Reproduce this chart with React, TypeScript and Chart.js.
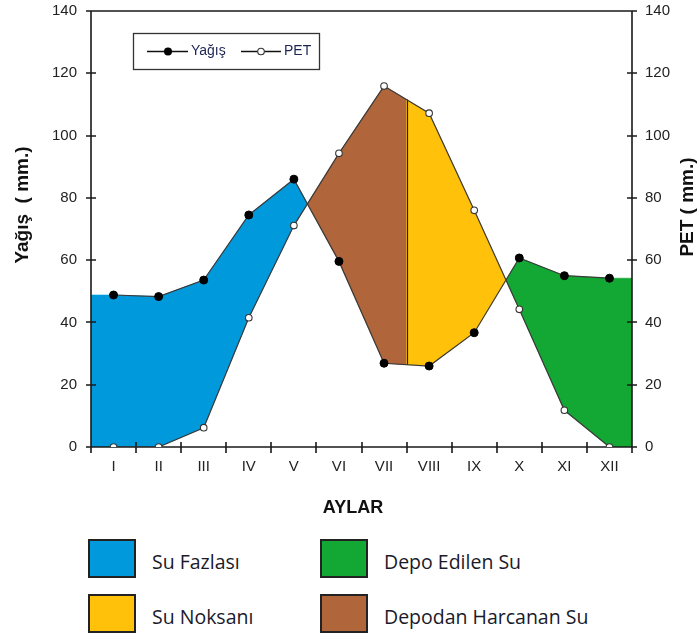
import React, { useEffect, useRef } from "react";
import { Chart, registerables } from "chart.js";

Chart.register(...registerables);

const months = ["I", "II", "III", "IV", "V", "VI", "VII", "VIII", "IX", "X", "XI", "XII"];
const yagis = [48.8, 48.3, 53.6, 74.5, 86, 59.6, 26.9, 26, 36.7, 60.7, 55, 54.2];
const pet = [0, 0, 6.2, 41.5, 71.1, 94.3, 115.9, 107.2, 76, 44.2, 11.8, 0];
const yTicks = [0, 20, 40, 60, 80, 100, 120, 140];
const seasonSplit = 6.5; // between VII and VIII
const legendItems = [
  { label: "Su Fazlası", color: "#0099DC" },
  { label: "Depo Edilen Su", color: "#12A833" },
  { label: "Su Noksanı", color: "#FFC10A" },
  { label: "Depodan Harcanan Su", color: "#B0663A" },
];

const COL = {
  surplus: "#0099DC",
  stored: "#12A833",
  deficit: "#FFC10A",
  used: "#B0663A",
};

const AXIS_FONT = "'Liberation Sans', Arial, sans-serif";

function valAt(arr: number[], t: number) {
  const n = arr.length;
  if (t <= 0) return arr[0];
  if (t >= n - 1) return arr[n - 1];
  const i = Math.floor(t);
  const f = t - i;
  if (f === 0) return arr[i];
  return arr[i] + (arr[i + 1] - arr[i]) * f;
}

const budgetPlugin = {
  id: "budget",
  beforeDatasetsDraw(chart: any) {
    const { ctx, chartArea, scales } = chart;
    const xs = scales.x;
    const ys = scales.y;
    const n = yagis.length;
    const step = xs.getPixelForValue(1) - xs.getPixelForValue(0);
    const x0 = xs.getPixelForValue(0);
    const xPix = (t: number) => x0 + t * step;
    const yPix = (v: number) => ys.getPixelForValue(v);

    let bps: number[] = [-0.5, n - 0.5, seasonSplit];
    for (let i = 0; i < n; i++) bps.push(i);
    for (let i = 0; i < n - 1; i++) {
      const d0 = yagis[i] - pet[i];
      const d1 = yagis[i + 1] - pet[i + 1];
      if (d0 * d1 < 0) bps.push(i + d0 / (d0 - d1));
    }
    bps.sort((a, b) => a - b);
    bps = bps.filter((v, i) => i === 0 || Math.abs(v - bps[i - 1]) > 1e-9);

    const colorOf = (a: number, b: number) => {
      const m = (a + b) / 2;
      const d = valAt(yagis, m) - valAt(pet, m);
      if (d >= 0) return m < seasonSplit ? COL.surplus : COL.stored;
      return m < seasonSplit ? COL.used : COL.deficit;
    };

    const runs: { color: string; pts: number[] }[] = [];
    for (let i = 0; i < bps.length - 1; i++) {
      const c = colorOf(bps[i], bps[i + 1]);
      const last = runs[runs.length - 1];
      if (last && last.color === c) last.pts.push(bps[i + 1]);
      else runs.push({ color: c, pts: [bps[i], bps[i + 1]] });
    }

    ctx.save();
    ctx.beginPath();
    ctx.rect(chartArea.left, chartArea.top, chartArea.right - chartArea.left, chartArea.bottom - chartArea.top);
    ctx.clip();
    for (const r of runs) {
      ctx.beginPath();
      r.pts.forEach((t, k) => {
        const x = xPix(t);
        const y = yPix(valAt(yagis, t));
        if (k === 0) ctx.moveTo(x, y);
        else ctx.lineTo(x, y);
      });
      for (let k = r.pts.length - 1; k >= 0; k--) {
        const t = r.pts[k];
        ctx.lineTo(xPix(t), yPix(valAt(pet, t)));
      }
      ctx.closePath();
      ctx.fillStyle = r.color;
      ctx.fill();
      ctx.lineWidth = 0.6;
      ctx.strokeStyle = r.color;
      ctx.stroke();
    }
    ctx.beginPath();
    ctx.moveTo(Math.round(xPix(seasonSplit)) + 0.5, yPix(valAt(yagis, seasonSplit)));
    ctx.lineTo(Math.round(xPix(seasonSplit)) + 0.5, yPix(valAt(pet, seasonSplit)));
    ctx.strokeStyle = "#222";
    ctx.lineWidth = 1.2;
    ctx.stroke();
    ctx.restore();

    const L = Math.round(chartArea.left);
    const R = Math.round(chartArea.right);
    const T = Math.round(chartArea.top);
    const B = Math.round(chartArea.bottom);
    ctx.save();
    ctx.strokeStyle = "#1a1a1a";
    ctx.lineWidth = 1.6;
    ctx.beginPath();
    ctx.moveTo(L, B);
    ctx.lineTo(L, T);
    ctx.lineTo(R, T);
    ctx.lineTo(R, B);
    ctx.moveTo(L - 5, B);
    ctx.lineTo(R + 5, B);
    for (const v of yTicks) {
      const y = Math.round(yPix(v));
      ctx.moveTo(L - 5, y);
      ctx.lineTo(L + 5, y);
      ctx.moveTo(R - 5, y);
      ctx.lineTo(R + 5, y);
    }
    for (let i = 0; i <= n; i++) {
      const x = Math.round(xPix(i - 0.5));
      ctx.moveTo(x, B - 5);
      ctx.lineTo(x, B + 6);
    }
    ctx.stroke();
    ctx.restore();
  },
  afterDraw(chart: any) {
    const { ctx, chartArea } = chart;
    ctx.save();
    ctx.fillStyle = "#111";
    ctx.textAlign = "center";
    ctx.textBaseline = "middle";
    ctx.font = `bold 19px ${AXIS_FONT}`;
    ctx.save();
    ctx.translate(23, chartArea.top + 194);
    ctx.rotate(-Math.PI / 2);
    ctx.fillText("Yağış  ( mm.)", 0, 0);
    ctx.restore();
    ctx.save();
    ctx.translate(688, chartArea.top + 196);
    ctx.rotate(-Math.PI / 2);
    ctx.fillText("PET ( mm.)", 0, 0);
    ctx.restore();
    ctx.font = `bold 18px ${AXIS_FONT}`;
    ctx.fillText("AYLAR", 353, chartArea.bottom + 61);

    const bx = chartArea.left + 42;
    const by = chartArea.top + 22;
    const bw = 186;
    const bh = 36;
    ctx.strokeStyle = "#333";
    ctx.lineWidth = 1.3;
    ctx.strokeRect(bx + 0.5, by + 0.5, bw, bh);
    const cy = by + bh / 2 + 0.5;
    ctx.font = `14px ${AXIS_FONT}`;
    ctx.textAlign = "left";
    ctx.lineWidth = 1.3;
    ctx.strokeStyle = "#111";
    ctx.beginPath();
    ctx.moveTo(bx + 14, cy);
    ctx.lineTo(bx + 55, cy);
    ctx.stroke();
    ctx.beginPath();
    ctx.arc(bx + 35, cy, 4, 0, Math.PI * 2);
    ctx.fillStyle = "#000";
    ctx.fill();
    ctx.fillStyle = "#1c2452";
    ctx.fillText("Yağış", bx + 58, cy);
    ctx.beginPath();
    ctx.moveTo(bx + 108, cy);
    ctx.lineTo(bx + 148, cy);
    ctx.stroke();
    ctx.beginPath();
    ctx.arc(bx + 128, cy, 3.3, 0, Math.PI * 2);
    ctx.fillStyle = "#fff";
    ctx.fill();
    ctx.strokeStyle = "#333";
    ctx.lineWidth = 1.1;
    ctx.stroke();
    ctx.fillStyle = "#1c2452";
    ctx.fillText("PET", bx + 151, cy);
    ctx.restore();
  },
};

export default function App() {
  const ref = useRef<HTMLCanvasElement>(null);
  useEffect(() => {
    if (!ref.current) return;
    const chart = new Chart(ref.current, {
      type: "line",
      data: {
        labels: months,
        datasets: [
          {
            label: "Yağış",
            data: yagis,
            borderColor: "#3a3a3a",
            borderWidth: 1.2,
            pointRadius: 4,
            pointBackgroundColor: "#000",
            pointBorderColor: "#000",
            pointBorderWidth: 1,
            fill: false,
            tension: 0,
          },
          {
            label: "PET",
            data: pet,
            borderColor: "#3a3a3a",
            borderWidth: 1.2,
            pointRadius: 3.3,
            pointBackgroundColor: "#fff",
            pointBorderColor: "#333",
            pointBorderWidth: 1.1,
            fill: false,
            tension: 0,
          },
        ],
      },
      options: {
        animation: false,
        responsive: false,
        maintainAspectRatio: false,
        layout: { padding: { top: 11, left: 0, right: 0, bottom: 0 } },
        plugins: { legend: { display: false }, tooltip: { enabled: false } },
        scales: {
          x: {
            type: "category",
            offset: true,
            grid: { display: false, drawTicks: false },
            border: { display: false },
            ticks: { color: "#222", font: { family: AXIS_FONT, size: 15 }, padding: 11, maxRotation: 0, autoSkip: false },
            afterFit: (s: any) => { s.height = 78; s.paddingLeft = 0; s.paddingRight = 0; },
          },
          y: {
            position: "left",
            min: 0,
            max: 140,
            grid: { display: false, drawTicks: false },
            border: { display: false },
            afterBuildTicks: (s: any) => { s.ticks = yTicks.map((v) => ({ value: v })); },
            ticks: { color: "#222", font: { family: AXIS_FONT, size: 15 }, padding: 14 },
            afterFit: (s: any) => { s.width = 91; s.paddingTop = 0; s.paddingBottom = 0; },
          },
          y2: {
            position: "right",
            min: 0,
            max: 140,
            grid: { display: false, drawTicks: false },
            border: { display: false },
            afterBuildTicks: (s: any) => { s.ticks = yTicks.map((v) => ({ value: v })); },
            ticks: { color: "#222", font: { family: AXIS_FONT, size: 15 }, padding: 13 },
            afterFit: (s: any) => { s.width = 68; s.paddingTop = 0; s.paddingBottom = 0; },
          },
        },
      },
      plugins: [budgetPlugin],
    } as any);
    return () => chart.destroy();
  }, []);

  const boxPos = [
    { left: 88, top: 539 },
    { left: 320, top: 539 },
    { left: 88, top: 594 },
    { left: 320, top: 594 },
  ];

  return (
    <div style={{ position: "absolute", left: 0, top: 0, width: 700, height: 639, background: "#fff" }}>
      <canvas ref={ref} width={700} height={525} style={{ display: "block", width: 700, height: 525 }} />
      {legendItems.map((it, i) => (
        <div key={it.label}>
          <div
            style={{
              position: "absolute",
              left: boxPos[i].left,
              top: boxPos[i].top,
              width: 44,
              height: 35,
              background: it.color,
              border: "2px solid #222",
            }}
          />
          <div
            style={{
              position: "absolute",
              left: boxPos[i].left + 64,
              top: boxPos[i].top + 23,
              transform: "translateY(-50%)",
              fontFamily: "'Open Sans', sans-serif",
              fontSize: 19.5,
              color: "#1a1a2a",
              whiteSpace: "nowrap",
              lineHeight: 1,
            }}
          >
            {it.label}
          </div>
        </div>
      ))}
    </div>
  );
}
